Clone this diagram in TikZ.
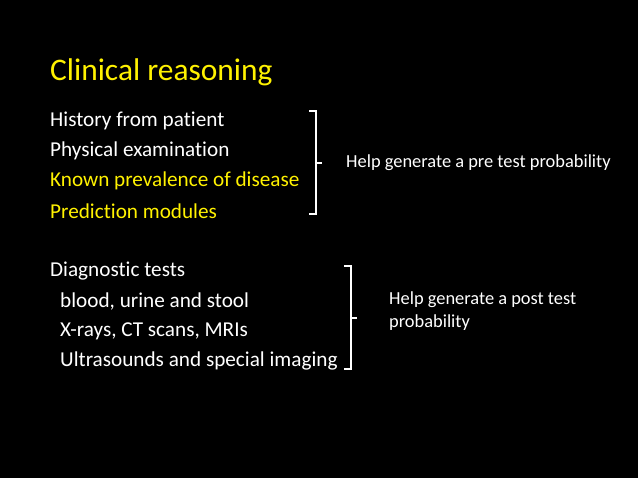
\documentclass[tikz,border=0pt]{standalone}
\usepackage{fontspec}
\setmainfont[Ligatures=NoCommon]{Carlito}
\begin{document}
\begin{tikzpicture}[x=1pt,y=-1pt,
  body/.style={anchor=west,text=white,font=\fontsize{21.2}{25}\selectfont,inner sep=0},
  note/.style={anchor=west,text=white,font=\fontsize{18.4}{23}\selectfont,inner sep=0,align=left},
  br/.style={white,line width=1.6pt}]
\fill[black] (0,0) rectangle (638,478);
\useasboundingbox (0,0) rectangle (638,478);
\node[anchor=west,text=yellow,font=\fontsize{31.4}{36}\selectfont,inner sep=0] (t) at (50,72) {Clinical reasoning};
\node[body] (a) at (50,121) {History from patient};
\node[body] (b) at (50,151) {Physical examination};
\node[body,text=yellow] (c) at (50,181) {Known prevalence of disease};
\node[body,text=yellow] (d) at (50,211) {Prediction modules};
\node[body] (e) at (50,271) {Diagnostic tests};
\node[body] (f) at (60,301) {blood, urine and stool};
\node[body] (g) at (60,331) {X-rays, CT scans, MRIs};
\node[body] (h) at (60,361) {Ultrasounds and special imaging};
\draw[br] (309,111) -- (316,111) -- (316,214) -- (309,214) (316,163) -- (322,163);
\draw[br] (344,266) -- (351,266) -- (351,369) -- (344,369) (351,318) -- (357,318);
\node[note] (n1) at (346,163) {Help generate a pre test probability};
\node[note,anchor=north west] (n2) at (389,292) {Help generate a post test\\probability};
\end{tikzpicture}
\end{document}
